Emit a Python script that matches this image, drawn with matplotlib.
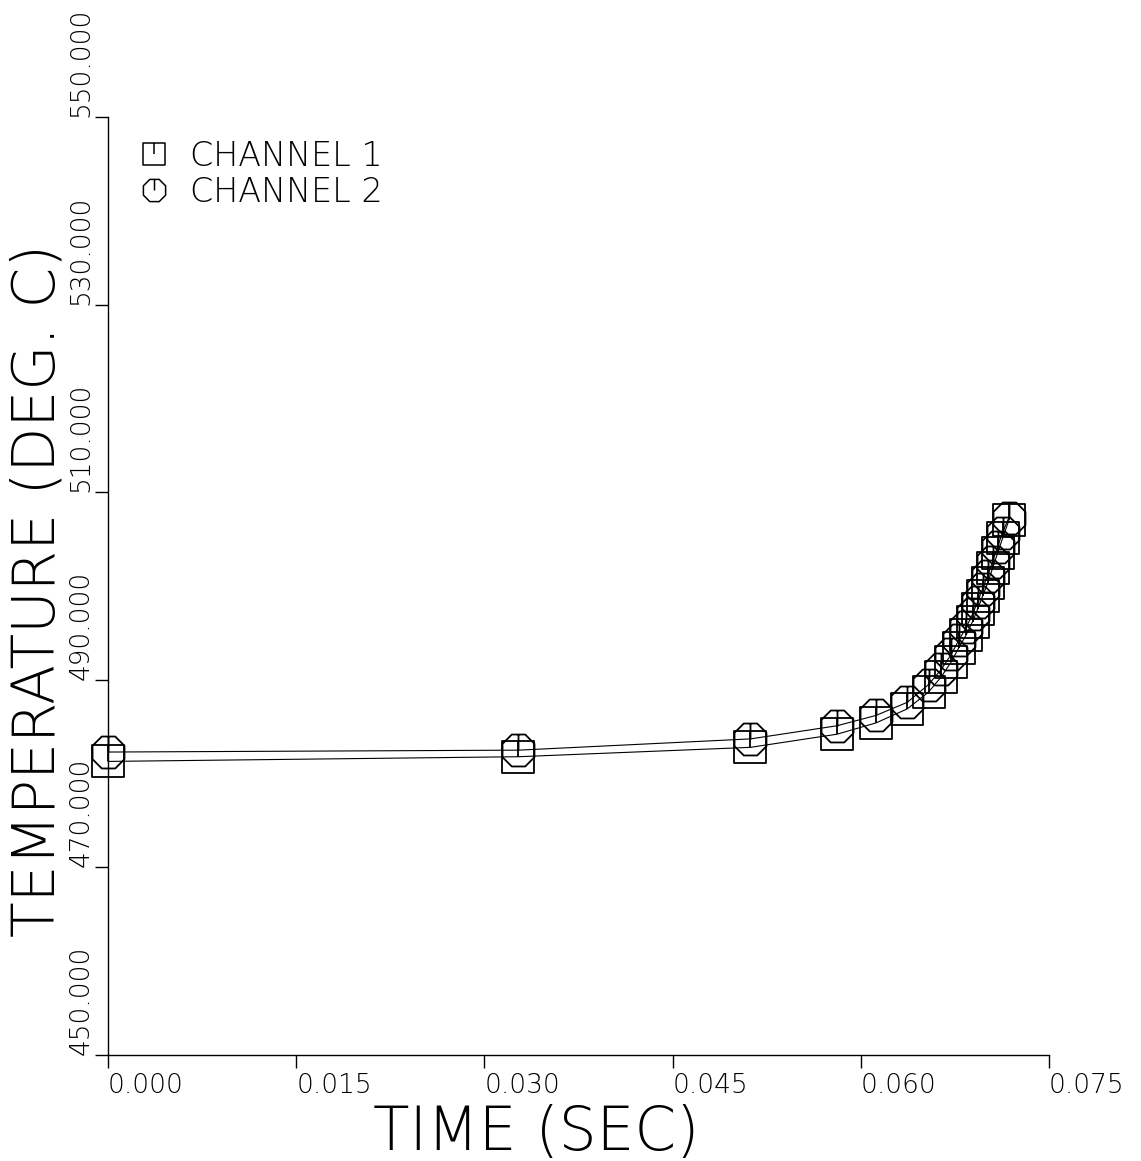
import numpy as np
import matplotlib
matplotlib.use('Agg')
import matplotlib.pyplot as plt
from matplotlib.path import Path
from matplotlib.lines import Line2D

# время и температура по двум каналам
time_sec = [0.0, 0.0327, 0.0512, 0.0581, 0.0612, 0.0637, 0.0654, 0.0664, 0.0672,
            0.0678, 0.0684, 0.0689, 0.0693, 0.0697, 0.0701, 0.0705, 0.0709, 0.0713, 0.0718]
channel_1 = [481.3, 481.8, 482.8, 484.2, 485.4, 486.9, 488.7, 490.3, 491.9,
             493.4, 494.8, 496.2, 497.5, 498.9, 500.3, 501.9, 503.5, 505.1, 507.0]
channel_2 = [482.3, 482.5, 483.7, 485.1, 486.2, 487.6, 489.5, 491.1, 492.7,
             494.2, 495.6, 497.0, 498.3, 499.7, 501.1, 502.6, 504.2, 505.7, 507.3]

x_ticks = [0.0, 0.015, 0.030, 0.045, 0.060, 0.075]
x_labels = ['0.000', '0.015', '0.030', '0.045', '0.060', '0.075']
y_ticks = [450, 470, 490, 510, 530, 550]
y_labels = ['450.000', '470.000', '490.000', '510.000', '530.000', '550.000']
names = ['CHANNEL 1', 'CHANNEL 2']

# маркеры как у плоттера: квадрат / восьмиугольник с чёрточкой сверху до центра
sq_verts = [(-1, -1), (1, -1), (1, 1), (-1, 1), (-1, -1), (0, 1), (0, 0)]
sq_codes = [Path.MOVETO, Path.LINETO, Path.LINETO, Path.LINETO, Path.CLOSEPOLY,
            Path.MOVETO, Path.LINETO]
square_mark = Path(sq_verts, sq_codes)

a = 0.42
oct_verts = [(-a, 1), (a, 1), (1, a), (1, -a), (a, -1), (-a, -1), (-1, -a), (-1, a), (-a, 1),
             (0, 1), (0, 0)]
oct_codes = [Path.MOVETO] + [Path.LINETO] * 7 + [Path.CLOSEPOLY, Path.MOVETO, Path.LINETO]
octagon_mark = Path(oct_verts, oct_codes)

plt.rcParams['font.family'] = ['DejaVu Sans']
plt.rcParams['font.weight'] = 'light'
plt.rcParams['axes.labelweight'] = 'light'

fig = plt.figure(figsize=(11.41, 11.61), dpi=100)
ax = fig.add_axes([0.0947, 0.0913, 0.8247, 0.8079])

ax.plot(time_sec, channel_1, color='k', lw=0.8, marker=square_mark, ms=23,
        mfc='none', mec='k', mew=1.3, clip_on=False)
ax.plot(time_sec, channel_2, color='k', lw=0.8, marker=octagon_mark, ms=23,
        mfc='none', mec='k', mew=1.3, clip_on=False)

ax.set_xlim(0, 0.075)
ax.set_ylim(450, 550)
ax.spines['top'].set_visible(False)
ax.spines['right'].set_visible(False)
ax.spines['left'].set_linewidth(1.0)
ax.spines['bottom'].set_linewidth(1.0)

ax.set_xticks(x_ticks)
ax.set_xticklabels(x_labels, ha='left', fontsize=19)
ax.set_yticks(y_ticks)
ax.set_yticklabels(y_labels, rotation=90, va='bottom', fontsize=19)
ax.tick_params(direction='out', length=9.4, width=1.0, pad=3.5)
ax.tick_params(axis='y', pad=1)

ax.set_xlabel('TIME (SEC)', fontsize=43, va='baseline', fontweight='light')
ax.xaxis.set_label_coords(0.455, -0.101)
ax.set_ylabel('TEMPERATURE (DEG. C)', fontsize=42, va='center', fontweight='light')
ax.yaxis.set_label_coords(-0.074, 0.495)

handles = [Line2D([], [], ls='none', marker=square_mark, ms=16, mfc='none', mec='k', mew=1.1),
           Line2D([], [], ls='none', marker=octagon_mark, ms=16, mfc='none', mec='k', mew=1.1)]
ax.legend(handles, names, loc='upper left', bbox_to_anchor=(0.02, 0.99), frameon=False,
          fontsize=24, handlelength=0.8, handletextpad=0.7, labelspacing=0.1,
          borderaxespad=0.0)

fig.savefig('out.png', dpi=100)
